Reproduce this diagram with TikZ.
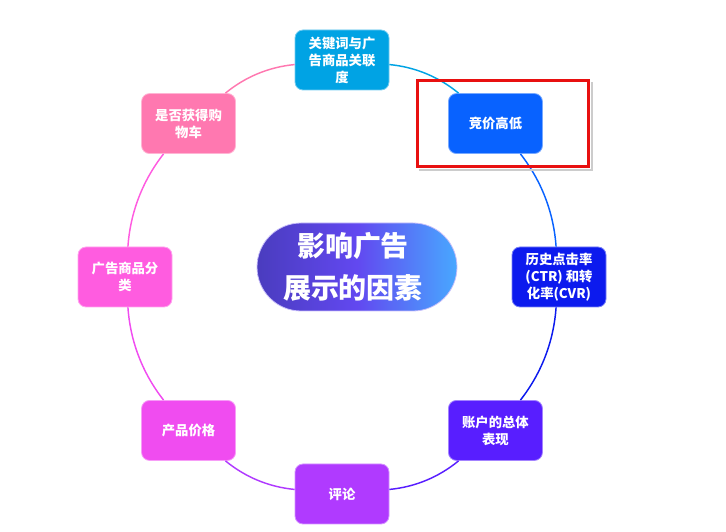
\documentclass[tikz,border=0pt]{standalone}
\usepackage{fontspec}
\newfontfamily\cjk{Noto Sans CJK SC}
\usetikzlibrary{positioning}

\definecolor{kwc}{RGB}{0,163,228}
\definecolor{bidc}{RGB}{8,98,255}
\definecolor{ctrc}{RGB}{12,26,238}
\definecolor{acctc}{RGB}{88,30,255}
\definecolor{revc}{RGB}{176,58,255}
\definecolor{pricec}{RGB}{240,76,240}
\definecolor{catc}{RGB}{255,92,224}
\definecolor{cartc}{RGB}{255,120,176}
\definecolor{hubl}{RGB}{74,60,190}
\definecolor{hubm}{RGB}{98,72,240}
\definecolor{hubr}{RGB}{72,168,255}
\definecolor{markc}{RGB}{232,16,16}

\tikzset{
  factor/.style={rectangle, rounded corners=6pt, fill=#1, draw=#1!55!white,
    line width=0.6pt, minimum width=70.5pt, minimum height=45pt, inner sep=1pt,
    align=center, text=white, font=\cjk\bfseries\fontsize{10pt}{12.75pt}\selectfont},
  ring/.style={draw=#1, line width=1.1pt},
  hubbox/.style={rounded corners=33pt, minimum width=150pt, minimum height=66pt,
    left color=hubl, right color=hubr, middle color=hubm, draw=hubm!35!white,
    line width=0.6pt, text=white, align=center,
    font=\cjk\bfseries\fontsize{21pt}{32pt}\selectfont},
  markbox/.style={draw=markc, line width=2.2pt, minimum width=128pt, minimum height=64pt}
}

\begin{document}
\begin{tikzpicture}[x=0.75pt,y=0.75pt]
    \useasboundingbox (0,0) rectangle (726,532);
    \coordinate (hub) at (342,255);

    % factors round the ring
    \foreach \a/\n/\c/\t in {90/kw/kwc/{关键词与广\\告商品关联\\度},
        45/bid/bidc/{竞价高低},
        0/ctr/ctrc/{历史点击率\\(CTR) 和转\\化率(CVR)},
        -45/acct/acctc/{账户的总体\\表现},
        -90/rev/revc/{评论},
        -135/price/pricec/{产品价格},
        180/cat/catc/{广告商品分\\类},
        135/cart/cartc/{是否获得购\\物车}}
    \node[factor=\c] (\n) at ([shift={(hub)}]\a:217) {\t};

    \foreach \p/\q/\c in {kw/bid/kwc, bid/ctr/bidc, ctr/acct/ctrc, acct/rev/acctc,
        rev/price/revc, price/cat/pricec, cat/cart/catc, cart/kw/cartc}
    \draw[ring=\c] (\p) to[bend left=17, looseness=0.88] (\q);

    \node[hubbox] (title) at (357,265) {\hspace*{-6pt}影响广告\\\hspace*{-6pt}展示的因素};

    % highlight
    \node[markbox] (mark) at ([xshift=5.6pt]bid) {};
    \draw[black!20, line width=1.5pt] ([shift={(1.8pt,-1.8pt)}]mark.south west) -- ([shift={(1.8pt,-1.8pt)}]mark.south east) -- ([shift={(1.8pt,-1.8pt)}]mark.north east);
    \node[markbox] at (mark) {};
\end{tikzpicture}
\end{document}
